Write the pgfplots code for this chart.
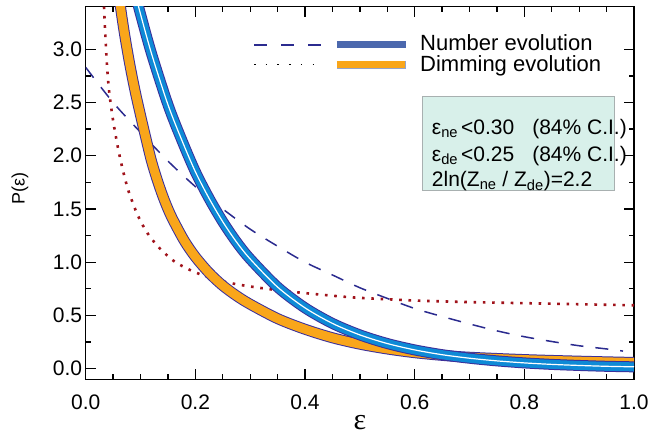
\documentclass[border=0pt]{standalone}
\usepackage{pgfplots}
\pgfplotsset{compat=1.18}
\usepackage{fontspec}
\setmainfont{Liberation Sans}
\newfontfamily\serifgreek{Liberation Serif}
\definecolor{dashblue}{HTML}{2B2B8F}
\definecolor{dotred}{HTML}{A0121A}
\definecolor{bandblue}{HTML}{0E8AD6}
\definecolor{edgeblue}{HTML}{3A2F9A}
\definecolor{bandorange}{HTML}{F9A61A}
\definecolor{legblue}{HTML}{4B68AD}
\definecolor{boxfill}{HTML}{D8F0EA}
\definecolor{boxgray}{HTML}{A8B0B0}
\begin{document}
\begin{tikzpicture}
\begin{axis}[
  name=ax,
  scale only axis,
  width=548.3pt, height=372.6pt,
  xmin=0, xmax=1, ymin=-0.1, ymax=3.4,
  xtick={0,0.2,0.4,0.6,0.8,1},
  ytick={0,0.5,1,1.5,2,2.5,3},
  minor x tick num=3, minor y tick num=1,
  major tick length=10pt, minor tick length=5pt,
  tick style={line width=1.3pt, black},
  axis line style={line width=1.5pt},
  tick label style={font=\fontsize{21}{21}\selectfont},
  /pgf/number format/assume math mode=true,
  /pgf/number format/fixed, /pgf/number format/fixed zerofill, /pgf/number format/precision=1,
  xticklabel shift=12pt,
  xlabel={\serifgreek ε},
  xlabel style={font=\fontsize{30}{30}\selectfont, inner sep=0pt, at={(axis description cs:0.5003,-0.115)}, anchor=center},
  ylabel={P(ε)},
  ylabel style={font=\fontsize{18}{18}\selectfont, at={(axis description cs:-0.1198,0.513)}, anchor=center},
]
% dashed
\addplot[dashblue, line width=1.5pt, dash pattern=on 13pt off 12pt, smooth] coordinates {
(0.00,2.83)(0.05,2.50)(0.10,2.22)(0.15,1.95)(0.20,1.71)(0.25,1.50)(0.30,1.31)(0.35,1.15)(0.40,1.00)(0.45,0.88)(0.50,0.76)(0.55,0.66)(0.60,0.565)(0.65,0.49)(0.70,0.42)(0.75,0.355)(0.80,0.30)(0.85,0.255)(0.90,0.215)(0.95,0.185)(0.98,0.165)};
% dotted
\addplot[dotred, line width=2.6pt, dash pattern=on 2.6pt off 6.7pt, smooth] coordinates {
(0.031,3.75)(0.033,3.45)(0.035,3.22)(0.038,2.92)(0.041,2.70)(0.044,2.55)(0.05,2.33)(0.059,2.07)(0.068,1.86)(0.078,1.67)(0.095,1.44)(0.113,1.27)(0.135,1.13)(0.161,1.01)(0.185,0.94)(0.207,0.89)(0.25,0.82)(0.29,0.78)(0.33,0.75)(0.38,0.72)(0.45,0.685)(0.50,0.665)(0.60,0.64)(0.70,0.625)(0.80,0.615)(0.90,0.605)(1.00,0.595)};
% orange band
\pgfplotstableread{
x y
0.054 3.75
0.06 3.52
0.07 3.17
0.08 2.87
0.09 2.61
0.10 2.38
0.11 2.16
0.12 1.95
0.13 1.78
0.14 1.63
0.15 1.50
0.16 1.39
0.18 1.20
0.20 1.05
0.225 0.90
0.25 0.78
0.275 0.685
0.30 0.605
0.35 0.47
0.40 0.37
0.45 0.29
0.50 0.23
0.55 0.185
0.60 0.15
0.65 0.125
0.70 0.107
0.80 0.085
0.90 0.07
1.00 0.058
}\orangetab
\addplot[edgeblue, line width=11pt, smooth] table {\orangetab};
\addplot[bandorange, line width=9pt, smooth] table {\orangetab};
% blue band
\pgfplotstableread{
x y
0.085 3.64
0.09 3.53
0.10 3.33
0.12 2.96
0.15 2.48
0.175 2.15
0.20 1.85
0.225 1.60
0.25 1.38
0.275 1.19
0.30 1.03
0.35 0.766
0.40 0.571
0.45 0.425
0.50 0.317
0.55 0.236
0.60 0.176
0.65 0.131
0.70 0.098
0.75 0.073
0.80 0.054
0.85 0.040
0.90 0.030
0.95 0.022
1.00 0.017
}\bluetab
\addplot[edgeblue, line width=11pt, smooth] table {\bluetab};
\addplot[bandblue, line width=9pt, smooth] table {\bluetab};
\addplot[white, line width=1.2pt, smooth] table {\bluetab};
% legend
\draw[dashblue, line width=1.5pt, dash pattern=on 12.5pt off 14.5pt] (axis cs:0.307,3.042) -- (axis cs:0.429,3.042);
\draw[legblue, line width=7pt] (axis cs:0.458,3.042) -- (axis cs:0.584,3.042);
\draw[black, line width=1.5pt, dash pattern=on 1.5pt off 10.2pt] (axis cs:0.307,2.855) -- (axis cs:0.429,2.855);
\draw[legblue!60, line width=8pt] (axis cs:0.458,2.855) -- (axis cs:0.584,2.855);
\draw[bandorange, line width=6.5pt] (axis cs:0.459,2.855) -- (axis cs:0.583,2.855);
\node[anchor=base west, inner sep=0pt, font=\fontsize{22}{22}\selectfont] at (axis cs:0.6097,2.989) {Number evolution};
\node[anchor=base west, inner sep=0pt, font=\fontsize{22}{22}\selectfont] at (axis cs:0.6097,2.792) {Dimming evolution};
% annotation box
\draw[draw=boxgray, fill=boxfill, line width=0.8pt] (axis cs:0.6133,2.5597) rectangle (axis cs:0.9635,1.6778);
\node[anchor=base west, inner sep=0pt, font=\fontsize{21}{21}\selectfont] at (axis cs:0.6311,2.198) {ε\textsubscript{ne}\hspace{3pt}<0.30\hspace{18pt}(84\% C.I.)};
\node[anchor=base west, inner sep=0pt, font=\fontsize{21}{21}\selectfont] at (axis cs:0.6311,1.947) {ε\textsubscript{de}\hspace{3pt}<0.25\hspace{18pt}(84\% C.I.)};
\node[anchor=base west, inner sep=0pt, font=\fontsize{21}{21}\selectfont] at (axis cs:0.6311,1.710) {2ln(Z\textsubscript{ne} / Z\textsubscript{de})=2.2};
\end{axis}
\pgfresetboundingbox
\path ([shift={(-85.7pt,-54.7pt)}]ax.south west) rectangle ([shift={(27pt,6.7pt)}]ax.north east);
\end{tikzpicture}
\end{document}
